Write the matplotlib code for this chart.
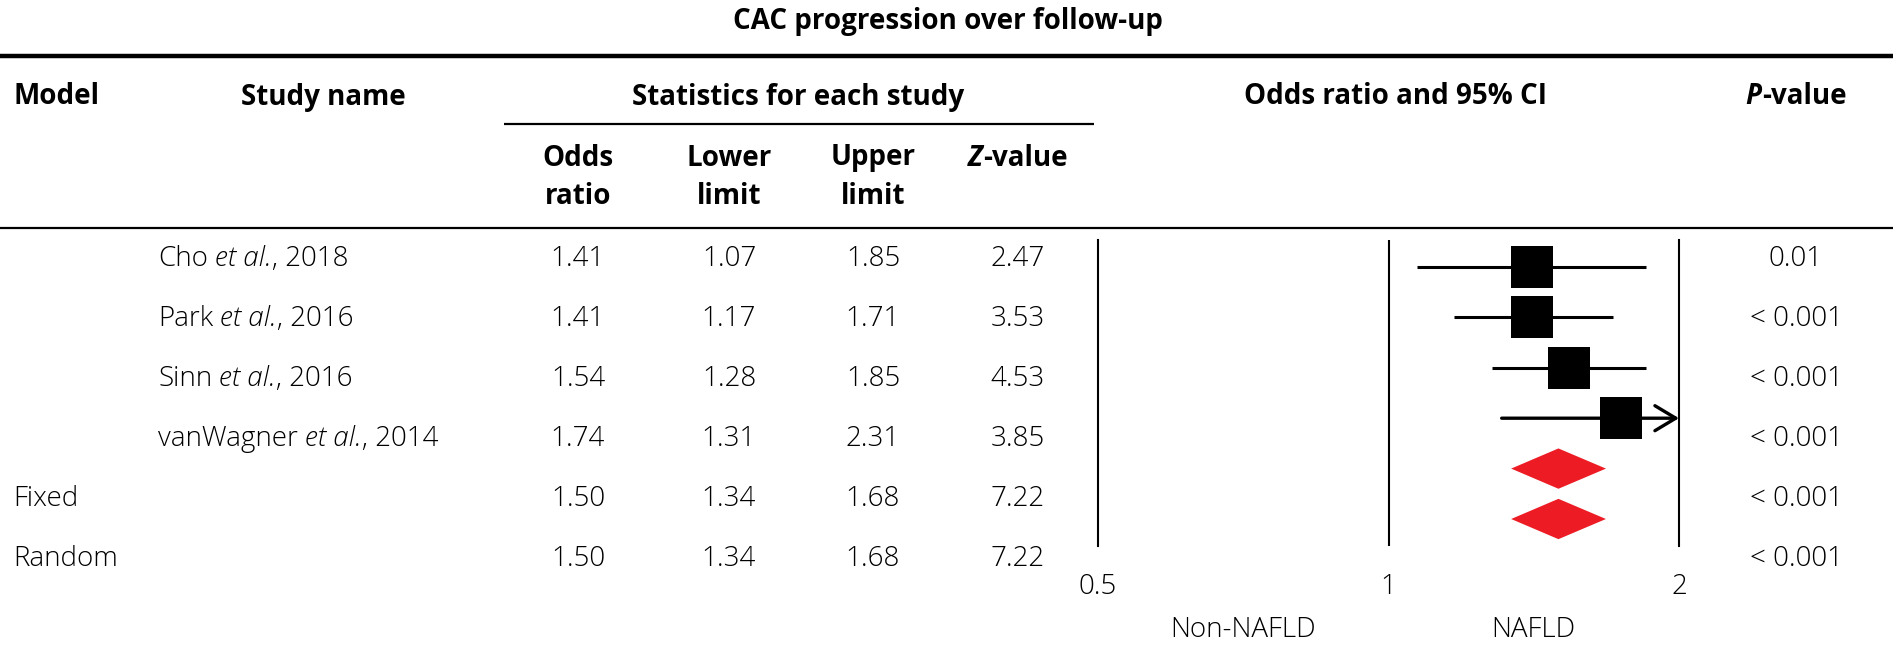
import numpy as np
import matplotlib
matplotlib.use("Agg")
import matplotlib.pyplot as plt
from matplotlib.transforms import blended_transform_factory

# ---------------- data ----------------
title = "CAC progression over follow-up"
models = ["", "", "", "", "Fixed", "Random"]
study_authors = ["Cho", "Park", "Sinn", "vanWagner", "", ""]
study_years = ["2018", "2016", "2016", "2014", "", ""]
odds_ratio = [1.41, 1.41, 1.54, 1.74, 1.50, 1.50]
lower_limit = [1.07, 1.17, 1.28, 1.31, 1.34, 1.34]
upper_limit = [1.85, 1.71, 1.85, 2.31, 1.68, 1.68]
z_value = [2.47, 3.53, 4.53, 3.85, 7.22, 7.22]
p_value = ["0.01", "< 0.001", "< 0.001", "< 0.001", "< 0.001", "< 0.001"]
is_summary = [False, False, False, False, True, True]
axis_ticks = [0.5, 1, 2]
axis_tick_labels = ["0.5", "1", "2"]
side_labels = ["Non-NAFLD", "NAFLD"]

# ---------------- style ----------------
W, H = 1893, 668
FONT = "Open Sans"
FS = 20
BODY_W = 300
HEAD_W = "bold"
RED = "#ED1C24"

plt.rcParams["font.family"] = [FONT, "DejaVu Sans"]

fig = plt.figure(figsize=(W / 100, H / 100), dpi=100)
axp = fig.add_axes([0, 0, 1, 1])
axp.set_xlim(0, W)
axp.set_ylim(H, 0)
axp.axis("off")
renderer = fig.canvas.get_renderer()


def text_width(s, **kw):
    t = axp.text(0, 0, s, **kw)
    w = t.get_window_extent(renderer).width
    t.remove()
    return w


def pieces(x, y, parts, ha="left", weight=BODY_W):
    """parts: list of (string, style); ' ' entries are explicit spaces."""
    space = text_width("x x", fontsize=FS, fontweight=weight) - text_width(
        "xx", fontsize=FS, fontweight=weight)
    objs, widths = [], []
    for s, st in parts:
        if s == " ":
            objs.append(None)
            widths.append(space)
            continue
        t = axp.text(0, y, s, fontsize=FS, fontstyle=st, fontweight=weight,
                     va="center", ha="left")
        objs.append(t)
        widths.append(t.get_window_extent(renderer).width)
    total = sum(widths)
    cur = x if ha == "left" else x - total / 2
    for t, w in zip(objs, widths):
        if t is not None:
            t.set_x(cur)
        cur += w


def head(x, y, s, ha="center"):
    axp.text(x, y, s, fontsize=FS, fontweight=HEAD_W, ha=ha, va="center")


def body(x, y, s, ha="center"):
    axp.text(x, y, s, fontsize=FS, fontweight=BODY_W, ha=ha, va="center")


# ---------------- header ----------------
head(948, 22, title)
axp.plot([0, W], [56, 56], color="black", lw=3.2, solid_capstyle="butt")

hy = 97
head(13, hy, "Model", ha="left")
head(323, hy, "Study name")
head(798, hy, "Statistics for each study")
head(1395, hy, "Odds ratio and 95% CI")
pieces(1796, hy, [("P", "italic"), ("-value", "normal")], ha="center", weight=HEAD_W)
axp.plot([504, 1094], [124, 124], color="black", lw=1.6, solid_capstyle="butt")

col_x = [578, 729, 873, 1018]
sub1, sub2 = 158, 197
head(col_x[0], sub1, "Odds")
head(col_x[0], sub2, "ratio")
head(col_x[1], sub1, "Lower")
head(col_x[1], sub2, "limit")
head(col_x[2], sub1, "Upper")
head(col_x[2], sub2, "limit")
pieces(col_x[3], sub1, [("Z", "italic"), ("-value", "normal")], ha="center", weight=HEAD_W)

axp.plot([0, W], [228, 228], color="black", lw=1.6, solid_capstyle="butt")

# ---------------- table rows ----------------
row0, row_step = 259, 60
for i in range(len(odds_ratio)):
    y = row0 + i * row_step
    if models[i]:
        body(13, y, models[i], ha="left")
    if study_authors[i]:
        pieces(158, y, [(study_authors[i], "normal"), (" ", None),
                        ("et al.", "italic"), (", " + study_years[i], "normal")])
    for cx, v in zip(col_x, [odds_ratio[i], lower_limit[i], upper_limit[i], z_value[i]]):
        body(cx, y, f"{v:.2f}")
    body(1796, y, p_value[i])

# ---------------- forest plot ----------------
x_left_px, x_right_px = 1098, 1679
y_top_px, y_bot_px = 240, 546
f_row0, f_step = 267, 50.4
ax = fig.add_axes([x_left_px / W, 1 - y_bot_px / H,
                   (x_right_px - x_left_px) / W, (y_bot_px - y_top_px) / H])
ax.patch.set_alpha(0)
ax.set_xscale("log")
ax.set_xlim(axis_ticks[0], axis_ticks[-1])
ax.set_ylim((y_bot_px - f_row0) / f_step, (y_top_px - f_row0) / f_step)
for s in ["top", "bottom"]:
    ax.spines[s].set_visible(False)
for s in ["left", "right"]:
    ax.spines[s].set_linewidth(1.5)
ax.axvline(1, color="black", lw=1.5)
ax.set_xticks([])
ax.set_yticks([])
ax.minorticks_off()

xmax = axis_ticks[-1]
for i in range(len(odds_ratio)):
    y = i
    o, lo, hi = odds_ratio[i], lower_limit[i], upper_limit[i]
    if is_summary[i]:
        ax.fill([lo, o, hi, o], [y, y - 0.4, y, y + 0.4], color=RED, lw=0, zorder=3)
    else:
        if hi > xmax:
            ax.annotate("", xy=(xmax, y), xytext=(lo, y),
                        arrowprops=dict(arrowstyle="->,head_length=0.75,head_width=0.45",
                                        lw=2.4, color="black", shrinkA=0, shrinkB=0,
                                        mutation_scale=20),
                        zorder=2, annotation_clip=False)
        else:
            ax.plot([lo, hi], [y, y], color="black", lw=2.2, solid_capstyle="butt", zorder=2)
        ax.plot([o], [y], marker="s", ms=30, color="black", mew=0, zorder=4)

tr = blended_transform_factory(ax.transData, axp.transData)
for v, lab in zip(axis_ticks, axis_tick_labels):
    axp.text(v, 587, lab, transform=tr, fontsize=FS, fontweight=BODY_W,
             ha="center", va="center")
mid_left = np.sqrt(axis_ticks[0] * axis_ticks[1])
mid_right = np.sqrt(axis_ticks[1] * axis_ticks[2])
axp.text(mid_left, 630, side_labels[0], transform=tr, fontsize=FS, fontweight=BODY_W,
         ha="center", va="center")
axp.text(mid_right, 630, side_labels[1], transform=tr, fontsize=FS, fontweight=BODY_W,
         ha="center", va="center")

fig.savefig("out.png", dpi=100)
